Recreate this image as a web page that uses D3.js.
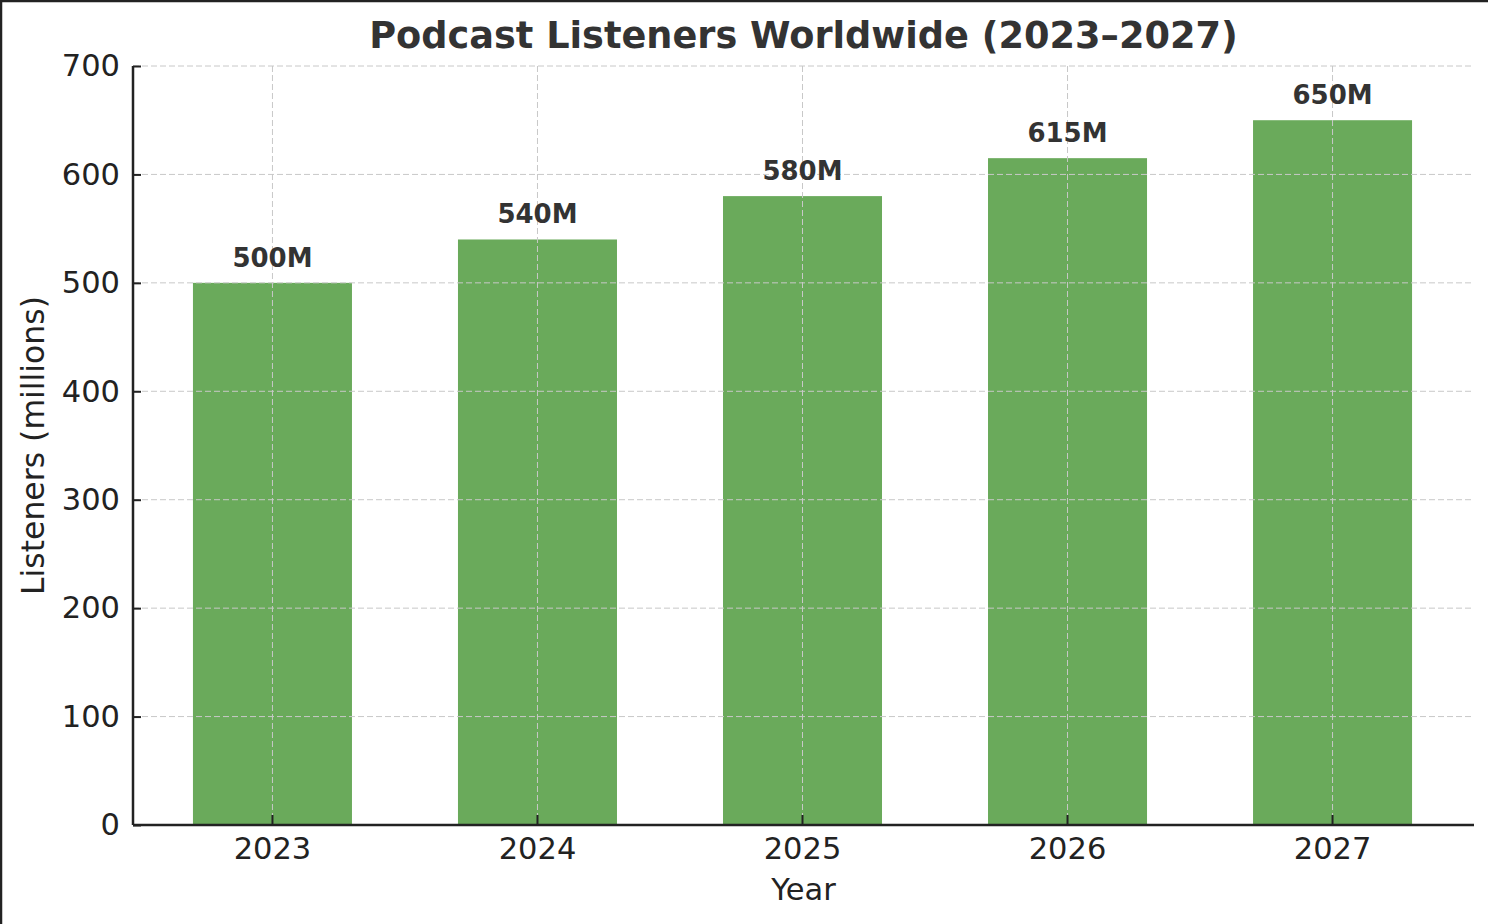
<!DOCTYPE html>
<html>
<head>
<meta charset="utf-8">
<script src="https://cdn.jsdelivr.net/npm/d3@7"></script>
<style>
  body { margin: 0; background: #fff; }
  text { font-family: "DejaVu Sans", sans-serif; }
</style>
</head>
<body>
<div id="chart"></div>
<script>
// Datos del gráfico
const years = ['2023', '2024', '2025', '2026', '2027'];
const listeners = [500, 540, 580, 615, 650];
const valueLabels = ['500M', '540M', '580M', '615M', '650M'];
const yTicks = [0, 100, 200, 300, 400, 500, 600, 700];

const width = 1488;
const height = 924;
const margin = { top: 66, right: 14, bottom: 99, left: 133 };

const svg = d3.select('#chart')
    .append('svg')
    .attr('width', width)
    .attr('height', height);

// Borde superior e izquierdo de la captura
svg.append('line').attr('x1', 0).attr('x2', width).attr('y1', 1).attr('y2', 1)
    .attr('stroke', '#222').attr('stroke-width', 2.5);
svg.append('line').attr('x1', 1).attr('x2', 1).attr('y1', 0).attr('y2', height)
    .attr('stroke', '#222').attr('stroke-width', 2.5);

const x = d3.scaleBand()
    .domain(years)
    .range([margin.left - 1, width - margin.right - 1])
    .paddingInner(0.4)
    .paddingOuter(0.23);

const y = d3.scaleLinear()
    .domain([0, 700])
    .range([height - margin.bottom, margin.top]);

// Barras
svg.selectAll('rect.bar')
    .data(listeners)
    .enter()
    .append('rect')
    .attr('class', 'bar')
    .attr('x', (d, i) => x(years[i]))
    .attr('y', d => y(d))
    .attr('width', x.bandwidth())
    .attr('height', d => y(0) - y(d))
    .attr('fill', '#6aaa5b');

// Rejilla (encima de las barras)
const grid = svg.append('g')
    .attr('stroke', '#c8c8c8')
    .attr('stroke-width', 1)
    .attr('stroke-dasharray', '6,3');

grid.selectAll('line.h')
    .data(yTicks.slice(1))
    .enter()
    .append('line')
    .attr('x1', margin.left)
    .attr('x2', width - margin.right)
    .attr('y1', d => y(d))
    .attr('y2', d => y(d));

grid.selectAll('line.v')
    .data(years)
    .enter()
    .append('line')
    .attr('x1', d => x(d) + x.bandwidth() / 2)
    .attr('x2', d => x(d) + x.bandwidth() / 2)
    .attr('y1', margin.top)
    .attr('y2', y(0));

// Etiquetas de valor
svg.selectAll('text.val')
    .data(listeners)
    .enter()
    .append('text')
    .attr('class', 'val')
    .attr('x', (d, i) => x(years[i]) + x.bandwidth() / 2)
    .attr('y', d => y(d) - 16)
    .attr('text-anchor', 'middle')
    .attr('font-size', 26)
    .attr('font-weight', 'bold')
    .attr('fill', '#333')
    .text((d, i) => valueLabels[i]);

// Ejes
const xAxis = svg.append('g')
    .attr('transform', `translate(0, ${y(0)})`)
    .call(d3.axisBottom(x).tickSizeInner(-10).tickSizeOuter(0).tickPadding(12));

const yAxis = svg.append('g')
    .attr('transform', `translate(${margin.left}, 0)`)
    .call(d3.axisLeft(y).tickValues(yTicks).tickSizeInner(-8).tickSizeOuter(0).tickPadding(13));

[xAxis, yAxis].forEach(g => {
    g.select('.domain').attr('stroke', '#222').attr('stroke-width', 2.5);
    g.selectAll('.tick line').attr('stroke', '#222').attr('stroke-width', 2);
    g.selectAll('.tick text')
        .attr('font-family', '"DejaVu Sans", sans-serif')
        .attr('font-size', 30.5)
        .attr('fill', '#222');
});
xAxis.select('.domain').attr('d', `M${margin.left},0H${width - margin.right}`);
yAxis.select('.domain').attr('d', `M0,${y(0)}V${margin.top}`);

// Títulos
svg.append('text')
    .attr('x', (margin.left + width - margin.right) / 2)
    .attr('y', 48)
    .attr('text-anchor', 'middle')
    .attr('font-size', 36.7)
    .attr('font-weight', 'bold')
    .attr('fill', '#333')
    .text('Podcast Listeners Worldwide (2023–2027)');

svg.append('text')
    .attr('x', (margin.left + width - margin.right) / 2)
    .attr('y', 900)
    .attr('text-anchor', 'middle')
    .attr('font-size', 30.5)
    .attr('fill', '#222')
    .text('Year');

svg.append('text')
    .attr('transform', `translate(44, ${(y(0) + y(700)) / 2}) rotate(-90)`)
    .attr('text-anchor', 'middle')
    .attr('font-size', 31.5)
    .attr('fill', '#222')
    .text('Listeners (millions)');
</script>
</body>
</html>
